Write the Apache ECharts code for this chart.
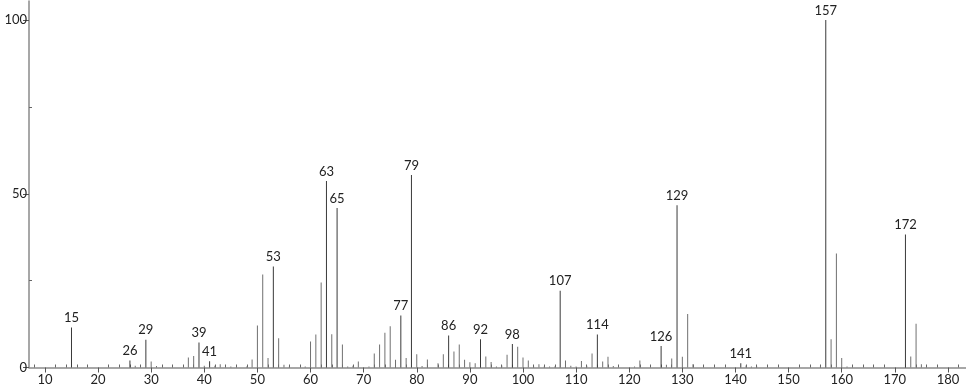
<!DOCTYPE html>
<html><head><meta charset="utf-8">
<script src="https://cdn.jsdelivr.net/npm/echarts@6/dist/echarts.min.js"></script>
<style>html,body{margin:0;padding:0;background:#fff}#c{width:966px;height:389px}</style>
</head><body><div id="c"></div>
<script>
const mz = [15,26,27,29,30,31,37,38,39,40,41,42,43,45,48,49,50,51,52,53,54,55,56,59,60,61,62,63,64,65,66,67,68,69,71,72,73,74,75,76,77,78,79,80,81,82,84,85,86,87,88,89,90,91,92,93,94,95,96,97,98,99,100,101,102,103,104,105,106,107,108,109,110,111,112,113,114,115,116,117,121,122,126,127,128,129,130,131,132,141,142,143,144,156,157,158,159,160,161,172,173,174,175];
const intensity = [11.5,2.0,0.5,8.0,1.7,0.4,2.9,3.3,7.2,0.5,1.8,0.5,0.9,0.3,0.3,2.3,12.1,26.8,2.7,29.1,8.4,0.8,0.2,0.3,7.5,9.5,24.5,53.7,9.6,45.9,6.6,0.3,0.5,1.7,0.3,4.0,6.6,10.0,11.9,2.2,15.0,2.7,55.4,3.8,0.4,2.3,1.2,3.8,9.2,4.6,6.6,2.2,1.5,1.2,8.1,3.2,1.6,0.3,0.6,3.7,6.8,6.0,2.9,2.0,0.3,0.9,0.3,0.3,0.3,22.1,2.0,0.5,0.3,1.9,0.5,4.0,9.5,1.7,3.1,0.4,0.3,2.0,6.2,0.8,2.6,46.7,3.1,15.4,0.9,1.2,0.6,0.3,0.3,0.4,100,8.1,32.8,2.7,0.3,38.3,3.2,12.6,0.9];
const labeledPeaks = [15,26,29,39,41,53,63,65,77,79,86,92,98,107,114,126,129,141,157,172];
const xLabels = [10,20,30,40,50,60,70,80,90,100,110,120,130,140,150,160,170,180];
const xMinor = [];
for (let v = 8; v <= 182; v += 2) if (v % 10 !== 0) xMinor.push(v);
const yLabels = [0,50,100];
const yMinor = [25,75];

const FONT = 'Lato, "DejaVu Sans", sans-serif';
const data = mz.map((m,i) => {
  const lab = labeledPeaks.includes(m);
  return {
    value: [m, intensity[i]],
    itemStyle: {color: lab ? '#3a3a3a' : '#707070'},
    label: {show: lab}
  };
});

const chart = echarts.init(document.getElementById('c'), null, {renderer:'canvas'});
const xBase = {type:'value', min:7, max:183.4, splitLine:{show:false}};
const yBase = {type:'value', min:0, max:105.5, splitLine:{show:false}};
chart.setOption({
  animation:false,
  grid:{left:29, right:0, top:1, bottom:21.5, containLabel:false},
  xAxis:[
    Object.assign({}, xBase, {
      axisLine:{show:true, onZero:false, lineStyle:{color:'#8a8a8a', width:1.5}},
      axisTick:{show:true, customValues:xLabels, length:5, lineStyle:{color:'#555'}},
      axisLabel:{customValues:xLabels, color:'#222', fontSize:13, fontFamily:FONT, margin:6}
    }),
    Object.assign({}, xBase, {
      axisLine:{show:false},
      axisTick:{show:true, customValues:xMinor, length:3, lineStyle:{color:'#666'}},
      axisLabel:{show:false}
    })
  ],
  yAxis:[
    Object.assign({}, yBase, {
      axisLine:{show:true, onZero:false, lineStyle:{color:'#8a8a8a', width:1.5}},
      axisTick:{show:true, customValues:yLabels, length:6, lineStyle:{color:'#555'}},
      axisLabel:{customValues:yLabels, color:'#222', fontSize:13, fontFamily:FONT, margin:2}
    }),
    Object.assign({}, yBase, {
      position:'left',
      axisLine:{show:false},
      axisTick:{show:true, inside:true, customValues:yMinor, length:3, lineStyle:{color:'#666'}},
      axisLabel:{show:false}
    })
  ],
  series:[{
    type:'bar',
    xAxisIndex:0, yAxisIndex:0,
    barWidth:1,
    data:data,
    label:{position:'top', distance:3, color:'#222', fontSize:13, fontFamily:FONT,
      formatter:p => String(p.value[0])}
  }]
});
</script></body></html>
